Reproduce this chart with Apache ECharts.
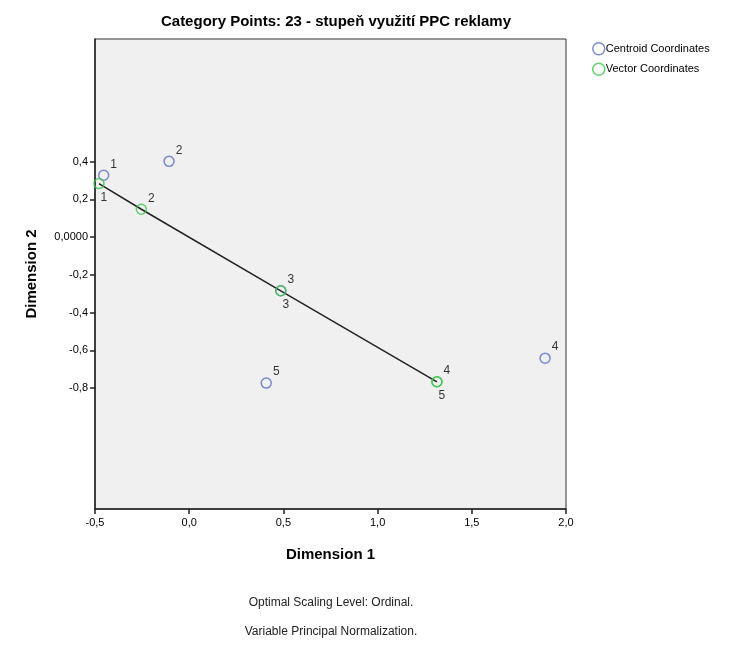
<!DOCTYPE html>
<html>
<head>
<meta charset="utf-8">
<script src="https://cdn.jsdelivr.net/npm/echarts@6/dist/echarts.min.js"></script>
<style>html,body{margin:0;padding:0;background:#fff;}#c{width:747px;height:645px;}</style>
</head>
<body>
<div id="c"></div>
<script>
const categories = ['1', '2', '3', '4', '5'];
const centroidDim1 = [-0.454, -0.107, 0.486, 1.889, 0.409];
const centroidDim2 = [0.328, 0.402, -0.284, -0.641, -0.773];
const vectorDim1 = [-0.479, -0.254, 0.486, 1.315, 1.315];
const vectorDim2 = [0.284, 0.148, -0.284, -0.766, -0.766];
const vectorLabelBelow = [true, false, true, false, true];
const xTicks = [-0.5, 0.0, 0.5, 1.0, 1.5, 2.0];
const yTicks = [-0.8, -0.6, -0.4, -0.2, 0.0, 0.2, 0.4];

const FONT = 'Liberation Sans, Arial, sans-serif';
const BLUE = '#5b6fc4';
const GREEN = '#3fc44e';

function fmt(v) {
  if (Math.abs(v) < 1e-9) return '0,0000';
  return v.toFixed(1).replace('.', ',');
}
function fmtX(v) { return (Math.abs(v) < 1e-9 ? 0 : v).toFixed(1).replace('.', ','); }

const labelAbove = { show: true, position: 'inside', offset: [10, -11], color: '#000', fontSize: 12, fontFamily: FONT, formatter: p => p.data.name };
const labelBelow = { show: true, position: 'inside', offset: [5, 14], color: '#000', fontSize: 12, fontFamily: FONT, formatter: p => p.data.name };

const centroidData = categories.map((c, i) => ({ name: c, value: [centroidDim1[i], centroidDim2[i]], label: labelAbove }));
const vectorData = categories.map((c, i) => ({ name: c, value: [vectorDim1[i], vectorDim2[i]], label: vectorLabelBelow[i] ? labelBelow : labelAbove }));
const lineData = categories.map((c, i) => [vectorDim1[i], vectorDim2[i]]);

const chart = echarts.init(document.getElementById('c'), null, { renderer: 'canvas' });
chart.setOption({
  animation: false,
  backgroundColor: '#fff',
  title: {
    text: 'Category Points: 23 - stupeň využití PPC reklamy',
    left: 331, top: 9, textAlign: 'center',
    textStyle: { fontFamily: FONT, fontSize: 15, fontWeight: 'bold', color: '#000' }
  },
  legend: {
    left: 587, top: 37, orient: 'vertical', itemGap: 7, itemWidth: 12, itemHeight: 12,
    textStyle: { fontFamily: FONT, fontSize: 11, color: '#000', padding: [0, 0, 0, -4] },
    data: [
      { name: 'Centroid Coordinates', icon: 'circle', itemStyle: { color: 'transparent', borderColor: BLUE, borderWidth: 1.5 } },
      { name: 'Vector Coordinates', icon: 'circle', itemStyle: { color: 'transparent', borderColor: GREEN, borderWidth: 1.5 } }
    ]
  },
  grid: { left: 95, right: 181, top: 39, bottom: 136, show: true, backgroundColor: '#f0f0f0', borderColor: '#333', borderWidth: 1 },
  xAxis: {
    type: 'value', min: -0.5, max: 2.0, interval: 0.5,
    name: 'Dimension 1', nameLocation: 'middle', nameGap: 38,
    nameTextStyle: { fontFamily: FONT, fontSize: 15, fontWeight: 'bold', color: '#000' },
    axisLine: { show: true, onZero: false, lineStyle: { color: '#222', width: 1.5 } },
    axisTick: { show: true, length: 5, lineStyle: { color: '#222', width: 1.5 } },
    splitLine: { show: false },
    axisLabel: { fontFamily: FONT, fontSize: 11, color: '#000', margin: 8, formatter: fmtX, customValues: xTicks }
  },
  yAxis: {
    type: 'value', min: -1.44, max: 1.05,
    name: 'Dimension 2', nameLocation: 'middle', nameGap: 56, nameRotate: 90,
    nameTextStyle: { fontFamily: FONT, fontSize: 15, fontWeight: 'bold', color: '#000' },
    axisLine: { show: true, onZero: false, lineStyle: { color: '#222', width: 1.5 } },
    axisTick: { show: true, length: 5, lineStyle: { color: '#222', width: 1.5 }, customValues: yTicks },
    splitLine: { show: false },
    axisLabel: { fontFamily: FONT, fontSize: 11, color: '#000', margin: 7, formatter: fmt, customValues: yTicks }
  },
  series: [
    {
      name: 'vectorLine', type: 'line', data: lineData, symbol: 'none', silent: true,
      lineStyle: { color: '#222', width: 1.5 }, z: 1
    },
    {
      name: 'Centroid Coordinates', type: 'scatter', data: centroidData, symbol: 'circle', symbolSize: 10,
      itemStyle: { color: 'transparent', borderColor: BLUE, borderWidth: 1.5 }, z: 2
    },
    {
      name: 'Vector Coordinates', type: 'scatter', data: vectorData, symbol: 'circle', symbolSize: 10,
      itemStyle: { color: 'transparent', borderColor: GREEN, borderWidth: 1.5 }, z: 3
    }
  ],
  graphic: [
    { type: 'text', x: 331, y: 603, style: { text: 'Optimal Scaling Level: Ordinal.', fontFamily: FONT, fontSize: 12, fill: '#222', align: 'center', verticalAlign: 'middle' } },
    { type: 'text', x: 331, y: 632, style: { text: 'Variable Principal Normalization.', fontFamily: FONT, fontSize: 12, fill: '#222', align: 'center', verticalAlign: 'middle' } }
  ]
});
</script>
</body>
</html>
